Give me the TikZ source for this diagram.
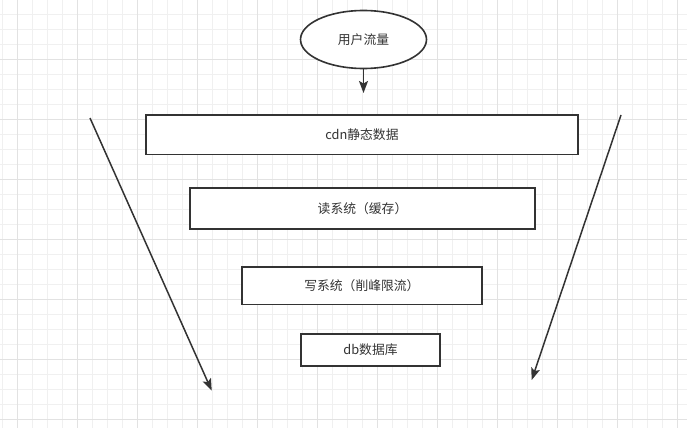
\documentclass[tikz,border=0pt]{standalone}
\usepackage{fontspec}
\setmainfont{Noto Sans CJK SC}
\usetikzlibrary{shapes.geometric,arrows.meta}
\definecolor{inkgray}{HTML}{333333}
\definecolor{gridminor}{HTML}{F0F0F0}
\definecolor{gridmajor}{HTML}{E2E2E2}
\begin{document}
\begin{tikzpicture}[x=1pt,y=-1pt,
    layerbox/.style={draw=inkgray,line width=1.6pt,fill=white,rectangle,inner sep=0pt,
      font=\fontsize{12.8}{15}\selectfont,text=inkgray},
    flow/.style={draw=inkgray,line width=1.5pt,-{Stealth[length=12pt,width=9pt,inset=2.5pt]}}]
    \useasboundingbox (0,0) rectangle (687,428);
    % background grid
    \fill[white] (0,0) rectangle (687,428);
    \foreach \gx in {2.3,17.3,...,687}
      \draw[gridminor,line width=0.8pt] (\gx,0) -- (\gx,428);
    \foreach \gy in {14,29,...,428}
      \draw[gridminor,line width=0.8pt] (0,\gy) -- (687,\gy);
    \foreach \gx in {17.3,77.3,...,687}
      \draw[gridmajor,line width=0.8pt] (\gx,0) -- (\gx,428);
    \foreach \gy in {59,119,...,428}
      \draw[gridmajor,line width=0.8pt] (0,\gy) -- (687,\gy);
    % traffic source and layers
    \node[ellipse,draw=inkgray,line width=1.6pt,fill=white,inner sep=0pt,
      minimum width=126pt,minimum height=58pt,font=\fontsize{12.8}{15}\selectfont,text=inkgray]
      (user) at (363.5,39.5) {用户流量};
    \node[layerbox,minimum width=432pt,minimum height=39.5pt] (cdn) at (362,134.8) {cdn静态数据};
    \node[layerbox,minimum width=345pt,minimum height=41pt] (cache) at (362.5,208.2) {读系统（缓存）};
    \node[layerbox,minimum width=240pt,minimum height=37.6pt] (write) at (361.9,285.5) {写系统（削峰限流）};
    \node[layerbox,minimum width=139pt,minimum height=32pt] (db) at (370.5,350) {db数据库};
    % funnel arrows
    \coordinate (in) at (363.5,93);
    \coordinate (ltop) at (90,118);
    \coordinate (lbot) at (211.7,390.7);
    \coordinate (rtop) at (621,115);
    \coordinate (rbot) at (531.7,380);
    \draw[flow] (user.south) -- (in);
    \draw[flow] (ltop) -- (lbot);
    \draw[flow] (rtop) -- (rbot);
  \end{tikzpicture}
\end{document}
